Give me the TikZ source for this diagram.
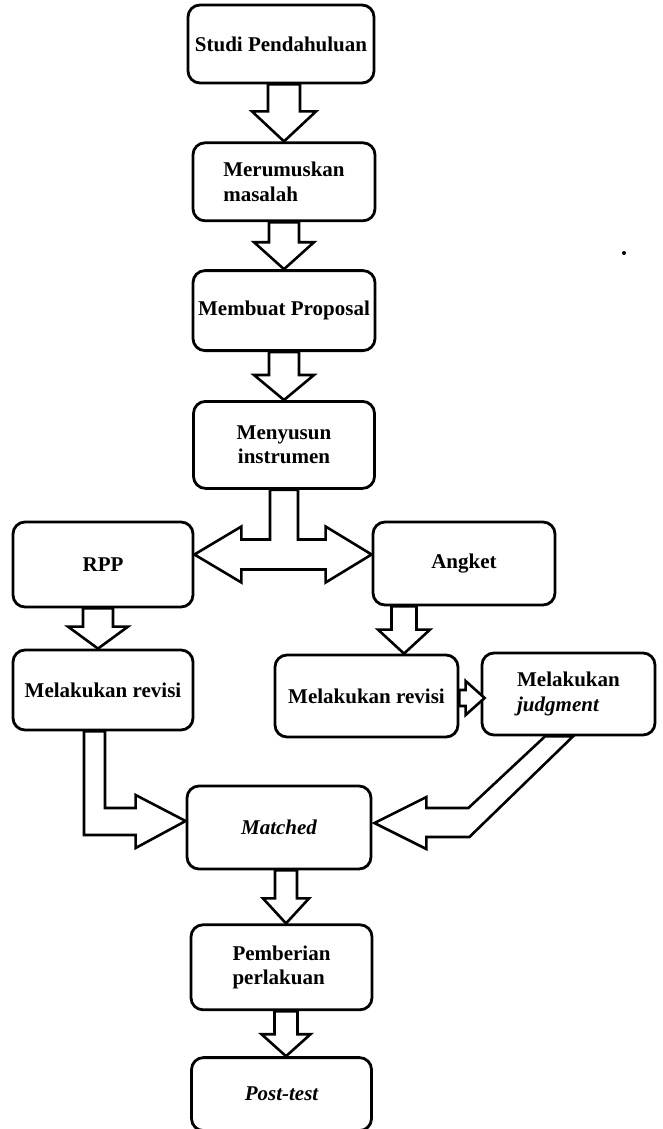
\documentclass[tikz,border=0pt]{standalone}
\usepackage{fontspec}
\setmainfont{Liberation Serif}
\usetikzlibrary{
    calc,
    positioning
}

% down block arrow: [x offset]{from}{to}{shaft half}{head half}{head length}
\newcommand{\blockdown}[6][0pt]{%
  \draw[blockarrow] let \p1=($(#2.south)+(#1,0)$), \p2=(#3.north) in
    (\x1-#4,\y1) -- (\x1-#4,\y2+#6) -- (\x1-#5,\y2+#6) -- (\x1,\y2)
    -- (\x1+#5,\y2+#6) -- (\x1+#4,\y2+#6) -- (\x1+#4,\y1) -- cycle;}

\begin{document}
\begin{tikzpicture}[x=1pt,y=-1pt,
    box/.style={draw, line width=2.8pt, rounded corners=12pt, inner sep=3pt,
      font=\bfseries\fontsize{21}{24.5}\selectfont},
    blockarrow/.style={draw, fill=white, line width=2.6pt, line join=miter}]
    \useasboundingbox (0,0) rectangle (662,1129);

    \node[box, minimum width=186pt, minimum height=78pt] (studi) at (281,44) {Studi Pendahuluan};
    \node[box, minimum width=182pt, minimum height=78pt, align=left] (rumus) [below=57pt of studi, xshift=3pt] {Merumuskan\\masalah};
    \node[box, minimum width=182pt, minimum height=80pt] (proposal) [below=47pt of rumus] {Membuat Proposal};
    \node[box, minimum width=181pt, minimum height=87pt, align=center] (instrumen) [below=48pt of proposal] {Menyusun\\instrumen};

    \node[box, minimum width=180pt, minimum height=85pt] (rpp) at (103,564.5) {RPP};
    \node[box, minimum width=182pt, minimum height=83pt] (angket) at (464,563.5) {Angket};
    \node[box, minimum width=180pt, minimum height=80pt] (revL) at (103,690) {Melakukan revisi};
    \node[box, minimum width=183pt, minimum height=82pt] (revR) at (366.5,696) {Melakukan revisi};
    \node[box, minimum width=173pt, minimum height=82pt, align=left] (judg) at (568.5,694) {Melakukan\\\itshape judgment};

    \node[box, minimum width=184pt, minimum height=83pt] (matched) at (279,827.5) {\itshape Matched};
    \node[box, minimum width=181pt, minimum height=85pt, align=left] (pember) [below=53pt of matched, xshift=2.5pt] {Pemberian\\perlakuan};
    \node[box, minimum width=180pt, minimum height=73pt] (posttest) [below=45pt of pember] {\itshape Post-test};

    % straight block arrows
    \blockdown[3pt]{studi}{rumus}{16pt}{32pt}{30pt}
    \blockdown{rumus}{proposal}{15pt}{30pt}{27pt}
    \blockdown{proposal}{instrumen}{15pt}{30pt}{25pt}
    \blockdown[-5pt]{rpp}{revL}{15pt}{30pt}{22pt}
    \blockdown[-60pt]{angket}{revR}{12.5pt}{26pt}{24pt}
    \blockdown[7pt]{matched}{pember}{11pt}{23pt}{25pt}
    \blockdown[4.5pt]{pember}{posttest}{11.5pt}{24.5pt}{22pt}

    % split arrow to RPP and Angket
    \draw[blockarrow] let \p1=(instrumen.south), \p2=(rpp.east), \p3=(angket.west) in
      (\x1-14pt,\y1) -- (\x1-14pt,\y2+25pt) -- (\x2+47pt,\y2+25pt) -- (\x2+47pt,\y2+38pt)
      -- (\x2,\y2+10pt) -- (\x2+47pt,\y2-18pt) -- (\x2+47pt,\y2-5pt) -- (\x3-46pt,\y2-5pt)
      -- (\x3-46pt,\y2-18pt) -- (\x3,\y2+10pt) -- (\x3-46pt,\y2+38pt) -- (\x3-46pt,\y2+25pt)
      -- (\x1+14pt,\y2+25pt) -- (\x1+14pt,\y1) -- cycle;

    % revisi to judgment
    \draw[blockarrow] let \p1=(revR.east), \p2=(judg.west) in
      (\x1,\y1+6pt) -- (\x2-15pt,\y1+6pt) -- (\x2-15pt,\y1+15pt) -- (\x2+4pt,\y1-2pt)
      -- (\x2-15pt,\y1-19pt) -- (\x2-15pt,\y1-10pt) -- (\x1,\y1-10pt) -- cycle;

    % bent arrows into Matched
    \draw[blockarrow] let \p1=(revL.south), \p2=(matched.west) in
      (\x1-19pt,\y1) -- (\x1-19pt,\y2-7.5pt) -- (\x2-50pt,\y2-7.5pt) -- (\x2-50pt,\y2-20.5pt)
      -- (\x2,\y2+6.5pt) -- (\x2-50pt,\y2+32.5pt) -- (\x2-50pt,\y2+19.5pt)
      -- (\x1+2pt,\y2+19.5pt) -- (\x1+2pt,\y1) -- cycle;
    \draw[blockarrow] let \p1=(judg.south), \p2=(matched.east) in
      (\x1-23.5pt,\y1) -- (\x2+96pt,\y2+19.5pt) -- (\x2+54pt,\y2+19.5pt) -- (\x2+54pt,\y2+30.5pt)
      -- (\x2+2pt,\y2+4.5pt) -- (\x2+54pt,\y2-21.5pt) -- (\x2+54pt,\y2-9.5pt)
      -- (\x2+97pt,\y2-9.5pt) -- (\x1+4.5pt,\y1) -- cycle;

    \fill (624,253) circle (2pt);
\end{tikzpicture}
\end{document}
